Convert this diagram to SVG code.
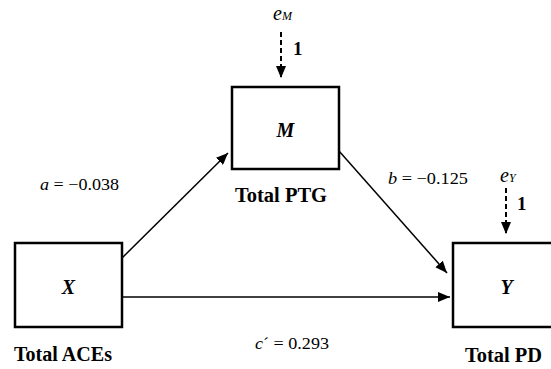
<svg xmlns="http://www.w3.org/2000/svg" width="551" height="369" viewBox="0 0 551 369">
<defs>
<marker id="ah" viewBox="0 0 12 10" refX="12" refY="5" markerWidth="12" markerHeight="10" markerUnits="userSpaceOnUse" orient="auto"><path d="M0,0 L12,5 L0,10 z" fill="#000"/></marker>
<style>
text{font-family:'Liberation Serif','DejaVu Serif','Times New Roman',serif;fill:#000}
.box{fill:#fff;stroke:#000;stroke-width:2.5}
.var{font-style:italic;font-weight:bold;font-size:20px;text-anchor:middle}
.name{font-weight:bold;font-size:20px}
.coef{font-size:17px}
.one{font-weight:bold;font-size:19px}
.err{font-style:italic;font-size:20px}
.sub{font-size:12px}
.conn{stroke:#000;stroke-width:1.5;fill:none;marker-end:url(#ah)}
.dash{stroke:#000;stroke-width:2;stroke-dasharray:5 3;fill:none;marker-end:url(#ah)}
</style>
</defs>
<rect width="551" height="369" fill="#fff"/>
<g id="connectors">
<line class="conn" x1="122" y1="258" x2="228" y2="153"/>
<line class="conn" x1="339" y1="151" x2="447" y2="273"/>
<line class="conn" x1="122" y1="297" x2="450" y2="297"/>
<line class="dash" x1="281" y1="32" x2="281" y2="78"/>
<line class="dash" x1="506" y1="188" x2="506" y2="234"/>
<text class="coef" x="40" y="190" textLength="79" lengthAdjust="spacingAndGlyphs"><tspan font-style="italic">a</tspan> = −0.038</text>
<text class="coef" x="388" y="184" textLength="80" lengthAdjust="spacingAndGlyphs"><tspan font-style="italic">b</tspan> = −0.125</text>
<text class="coef" x="255" y="349" textLength="74" lengthAdjust="spacingAndGlyphs"><tspan font-style="italic">c</tspan>´ = 0.293</text>
</g>
<g id="eM">
<text class="err" x="273" y="20">e<tspan class="sub">M</tspan></text>
<text class="one" x="293" y="55">1</text>
</g>
<g id="eY">
<text class="err" x="500" y="182">e<tspan class="sub">Y</tspan></text>
<text class="one" x="517" y="210">1</text>
</g>
<g id="M">
<rect class="box" x="232" y="87" width="107" height="82"/>
<text class="var" x="285.5" y="137">M</text>
<text class="name" x="235" y="202" textLength="92" lengthAdjust="spacingAndGlyphs">Total PTG</text>
</g>
<g id="X">
<rect class="box" x="15" y="243" width="107" height="84"/>
<text class="var" x="68.5" y="294">X</text>
<text class="name" x="14" y="361" textLength="98" lengthAdjust="spacingAndGlyphs">Total ACEs</text>
</g>
<g id="Y">
<rect class="box" x="453" y="243" width="107" height="84"/>
<text class="var" x="506.5" y="294">Y</text>
<text class="name" x="465" y="362" textLength="77" lengthAdjust="spacingAndGlyphs">Total PD</text>
</g>
</svg>
